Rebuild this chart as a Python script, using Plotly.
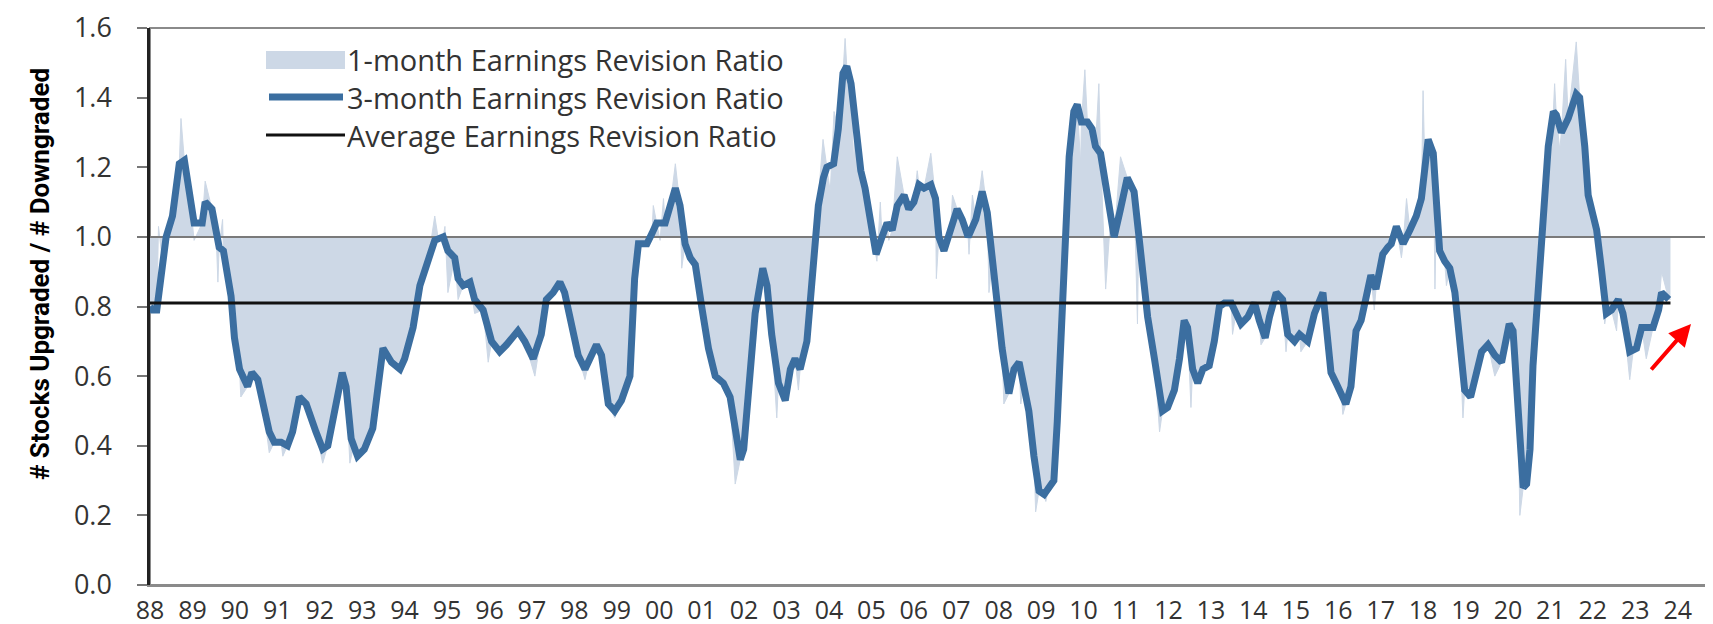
import plotly.graph_objects as go

# ---------------- data (decimal years) ----------------
# 3-month earnings revision ratio (key points)
t3 = [1988.00,1988.06,1988.16,1988.30,1988.38,1988.53,1988.69,1988.81,1988.93,1989.04,1989.23,1989.30,1989.46,1989.56,1989.63,1989.73,1989.91,1989.99,
      1990.11,1990.30,1990.40,1990.54,1990.66,1990.81,1990.93,1991.09,1991.24,1991.36,1991.52,1991.68,1991.91,1992.07,1992.19,1992.38,1992.53,1992.62,1992.74,1992.89,
      1993.05,1993.25,1993.37,1993.49,1993.69,1993.89,1994.00,1994.20,1994.36,1994.55,1994.71,1994.91,1995.02,1995.18,1995.26,1995.38,1995.54,1995.65,1995.85,
      1996.05,1996.24,1996.40,1996.67,1996.83,1997.03,1997.22,1997.34,1997.50,1997.66,1997.77,1997.93,1998.09,1998.25,1998.36,1998.52,1998.64,1998.80,1998.95,
      1999.11,1999.31,1999.42,1999.51,1999.71,1999.83,1999.94,2000.14,2000.26,2000.38,2000.49,2000.61,2000.73,2000.85,2001.00,2001.16,2001.32,2001.51,2001.67,
      2001.79,2001.91,2001.99,2002.10,2002.26,2002.44,2002.54,2002.65,2002.81,2002.97,2003.09,2003.20,2003.32,2003.48,2003.60,2003.75,2003.87,2003.95,
      2004.11,2004.22,2004.33,2004.42,2004.52,2004.62,2004.75,2004.85,2004.96,2005.11,2005.25,2005.37,2005.49,2005.61,2005.77,2005.88,2006.00,2006.12,
      2006.24,2006.40,2006.51,2006.59,2006.71,2006.87,2007.02,2007.14,2007.28,2007.46,2007.61,2007.73,2007.85,2007.97,2008.08,2008.24,2008.36,2008.48,
      2008.59,2008.71,2008.83,2008.95,2009.07,2009.18,2009.30,2009.38,2009.46,2009.56,2009.66,2009.77,2009.85,2009.95,2010.09,2010.20,2010.28,2010.40,
      2010.52,2010.64,2010.72,2010.87,2011.03,2011.19,2011.30,2011.39,2011.51,2011.67,2011.86,2011.98,2012.14,2012.26,2012.37,2012.45,2012.57,2012.69,
      2012.81,2012.96,2013.08,2013.20,2013.32,2013.48,2013.59,2013.71,2013.87,2014.03,2014.14,2014.28,2014.38,2014.54,2014.69,2014.81,2014.97,2015.09,
      2015.28,2015.44,2015.64,2015.71,2015.83,2015.95,2016.07,2016.18,2016.30,2016.42,2016.54,2016.66,2016.77,2016.89,2017.05,2017.17,2017.25,2017.37,
      2017.53,2017.69,2017.84,2017.96,2018.04,2018.12,2018.24,2018.32,2018.39,2018.51,2018.63,2018.75,2018.87,2018.98,2019.12,2019.24,2019.38,2019.53,
      2019.69,2019.85,2020.03,2020.12,2020.24,2020.36,2020.44,2020.52,2020.59,2020.71,2020.83,2020.95,2021.07,2021.14,2021.26,2021.42,2021.61,2021.69,
      2021.81,2021.89,2022.01,2022.09,2022.20,2022.32,2022.44,2022.60,2022.71,2022.87,2023.03,2023.15,2023.42,2023.55,2023.62,2023.79]
v3 = [0.80,0.79,0.79,0.92,1.00,1.06,1.21,1.22,1.12,1.04,1.04,1.10,1.08,1.00,0.97,0.96,0.83,0.71,
      0.62,0.57,0.61,0.59,0.52,0.44,0.41,0.41,0.40,0.44,0.54,0.52,0.44,0.39,0.40,0.53,0.61,0.57,0.42,0.37,
      0.39,0.45,0.57,0.68,0.64,0.62,0.65,0.74,0.86,0.93,0.99,1.00,0.96,0.94,0.88,0.86,0.87,0.82,0.79,
      0.70,0.67,0.69,0.73,0.70,0.65,0.72,0.82,0.84,0.87,0.84,0.76,0.66,0.62,0.65,0.69,0.66,0.52,0.50,
      0.53,0.60,0.88,0.98,0.98,1.01,1.04,1.04,1.09,1.14,1.09,0.98,0.94,0.92,0.80,0.68,0.60,0.58,0.54,
      0.44,0.36,0.39,0.57,0.78,0.91,0.86,0.72,0.58,0.53,0.62,0.65,0.62,0.70,0.88,1.09,1.17,1.20,
      1.21,1.31,1.47,1.49,1.44,1.33,1.19,1.14,1.05,0.95,1.00,1.04,1.02,1.09,1.12,1.08,1.10,1.15,
      1.14,1.15,1.11,1.00,0.96,1.03,1.08,1.05,1.00,1.05,1.13,1.07,0.93,0.82,0.68,0.55,0.62,0.64,
      0.58,0.50,0.37,0.27,0.26,0.28,0.30,0.47,0.72,0.98,1.23,1.36,1.38,1.33,1.33,1.31,1.26,1.24,
      1.16,1.06,1.00,1.08,1.17,1.13,1.01,0.88,0.77,0.65,0.50,0.51,0.56,0.65,0.76,0.74,0.62,0.58,
      0.62,0.63,0.70,0.80,0.81,0.81,0.78,0.75,0.77,0.81,0.76,0.71,0.77,0.84,0.82,0.72,0.70,0.72,
      0.70,0.78,0.84,0.76,0.61,0.58,0.55,0.52,0.57,0.73,0.76,0.84,0.89,0.85,0.95,0.97,0.98,1.03,
      0.98,1.02,1.06,1.11,1.21,1.28,1.24,1.09,0.96,0.93,0.91,0.84,0.68,0.56,0.54,0.60,0.67,0.69,
      0.66,0.64,0.75,0.73,0.47,0.28,0.29,0.39,0.63,0.83,1.07,1.26,1.36,1.35,1.30,1.34,1.41,1.40,
      1.26,1.12,1.06,1.02,0.91,0.78,0.79,0.82,0.78,0.67,0.68,0.74,0.74,0.79,0.84,0.82]

# 1-month earnings revision ratio (key points incl. single-month spikes)
t1 = [1988.00,1988.06,1988.16,1988.20,1988.30,1988.38,1988.53,1988.69,1988.73,1988.81,1988.93,1989.04,1989.23,1989.30,1989.46,1989.56,1989.60,1989.63,1989.71,1989.73,
      1989.91,1989.99,1990.11,1990.14,1990.30,1990.40,1990.54,1990.66,1990.81,1990.93,1991.09,1991.13,1991.24,1991.36,1991.52,1991.68,1991.91,1992.07,1992.19,
      1992.38,1992.53,1992.62,1992.71,1992.80,1992.89,1993.05,1993.25,1993.37,1993.49,1993.69,1993.89,1994.00,1994.20,1994.36,1994.55,1994.71,1994.80,1994.91,
      1994.95,1995.02,1995.18,1995.26,1995.38,1995.54,1995.65,1995.85,1995.97,1996.05,1996.24,1996.40,1996.67,1996.83,1997.07,1997.22,1997.34,1997.50,1997.66,
      1997.77,1997.93,1998.09,1998.25,1998.36,1998.52,1998.64,1998.80,1998.95,1999.11,1999.31,1999.42,1999.51,1999.71,1999.83,1999.86,1999.94,2000.02,2000.10,
      2000.14,2000.26,2000.38,2000.49,2000.53,2000.61,2000.73,2000.85,2001.00,2001.16,2001.32,2001.51,2001.67,2001.79,2001.91,2001.99,2002.10,2002.26,2002.44,
      2002.54,2002.65,2002.77,2002.81,2002.97,2003.09,2003.20,2003.28,2003.32,2003.48,2003.60,2003.75,2003.86,2003.95,2004.03,2004.12,2004.22,2004.33,2004.38,
      2004.42,2004.52,2004.58,2004.62,2004.75,2004.85,2004.96,2005.11,2005.13,2005.21,2005.25,2005.37,2005.41,2005.49,2005.61,2005.77,2005.88,2006.00,2006.08,
      2006.12,2006.24,2006.40,2006.51,2006.53,2006.59,2006.71,2006.87,2006.91,2007.02,2007.14,2007.28,2007.30,2007.38,2007.46,2007.61,2007.73,2007.77,2007.85,
      2007.97,2008.08,2008.12,2008.24,2008.36,2008.48,2008.52,2008.59,2008.71,2008.83,2008.87,2008.95,2009.07,2009.11,2009.18,2009.30,2009.38,2009.46,2009.56,
      2009.62,2009.66,2009.77,2009.85,2009.93,2009.95,2010.03,2010.09,2010.20,2010.28,2010.36,2010.40,2010.52,2010.64,2010.72,2010.87,2011.03,2011.19,2011.27,
      2011.30,2011.39,2011.51,2011.67,2011.79,2011.86,2011.98,2012.14,2012.26,2012.37,2012.45,2012.53,2012.57,2012.69,2012.81,2012.96,2013.08,2013.20,2013.32,
      2013.48,2013.51,2013.59,2013.71,2013.87,2014.03,2014.14,2014.18,2014.28,2014.38,2014.54,2014.69,2014.77,2014.81,2014.97,2015.09,2015.12,2015.28,2015.44,
      2015.64,2015.71,2015.83,2015.95,2016.07,2016.11,2016.18,2016.30,2016.42,2016.54,2016.66,2016.77,2016.85,2016.89,2017.05,2017.17,2017.25,2017.37,2017.49,
      2017.53,2017.61,2017.69,2017.84,2017.96,2018.00,2018.04,2018.12,2018.24,2018.28,2018.32,2018.39,2018.51,2018.55,2018.63,2018.75,2018.87,2018.94,2018.98,
      2019.12,2019.24,2019.38,2019.53,2019.69,2019.85,2020.03,2020.12,2020.24,2020.28,2020.36,2020.44,2020.52,2020.59,2020.71,2020.83,2020.95,2021.07,2021.10,
      2021.14,2021.22,2021.26,2021.36,2021.42,2021.61,2021.69,2021.81,2021.89,2022.01,2022.09,2022.20,2022.28,2022.32,2022.44,2022.56,2022.60,2022.71,2022.87,
      2022.95,2023.03,2023.15,2023.26,2023.42,2023.55,2023.62,2023.79,2023.83]
v1 = [0.80,0.79,0.79,1.03,0.92,1.00,1.06,1.21,1.34,1.22,1.12,0.99,1.04,1.16,1.08,1.00,0.87,0.97,1.05,0.96,
      0.83,0.71,0.62,0.54,0.57,0.61,0.59,0.52,0.38,0.41,0.41,0.37,0.40,0.44,0.54,0.52,0.44,0.35,0.40,
      0.53,0.61,0.57,0.35,0.40,0.36,0.39,0.45,0.57,0.68,0.64,0.62,0.65,0.74,0.86,0.93,1.06,0.99,1.00,
      1.03,0.84,0.94,0.82,0.86,0.87,0.78,0.79,0.64,0.70,0.67,0.69,0.73,0.70,0.60,0.72,0.82,0.84,0.87,
      0.84,0.76,0.66,0.59,0.65,0.69,0.66,0.52,0.48,0.53,0.60,0.88,0.98,0.98,1.01,1.09,1.04,0.99,1.11,
      1.04,1.09,1.21,1.09,0.91,0.98,0.94,0.92,0.80,0.68,0.60,0.58,0.54,0.29,0.36,0.39,0.57,0.78,0.91,
      0.86,0.72,0.48,0.58,0.53,0.62,0.65,0.56,0.62,0.70,0.88,1.09,1.28,1.20,1.13,1.36,1.31,1.47,1.57,
      1.49,1.44,1.21,1.33,1.19,1.14,1.05,0.95,0.93,1.10,1.00,1.04,0.99,1.02,1.23,1.12,1.08,1.10,1.19,
      1.15,1.14,1.24,1.11,0.88,1.00,0.96,1.03,1.12,1.08,1.05,1.00,0.95,1.12,1.05,1.19,1.07,0.84,0.93,
      0.82,0.68,0.52,0.55,0.62,0.64,0.52,0.58,0.50,0.37,0.21,0.27,0.26,0.24,0.28,0.30,0.47,0.72,0.98,
      1.26,1.23,1.36,1.38,1.21,1.33,1.48,1.33,1.31,1.26,1.44,1.24,0.85,1.06,1.00,1.23,1.17,1.13,0.75,
      1.01,0.88,0.77,0.65,0.44,0.50,0.51,0.56,0.65,0.76,0.74,0.51,0.62,0.58,0.62,0.63,0.70,0.80,0.81,
      0.81,0.72,0.78,0.75,0.77,0.81,0.76,0.69,0.71,0.77,0.84,0.82,0.67,0.72,0.70,0.72,0.67,0.70,0.78,
      0.84,0.76,0.61,0.58,0.55,0.49,0.52,0.57,0.73,0.76,0.84,0.89,0.79,0.85,0.95,0.97,0.98,1.03,0.94,
      0.98,1.11,1.02,1.06,1.11,1.42,1.21,1.28,1.24,0.85,1.09,0.96,0.93,0.86,0.91,0.84,0.68,0.48,0.56,
      0.54,0.60,0.67,0.69,0.60,0.64,0.75,0.73,0.47,0.20,0.28,0.29,0.39,0.63,0.83,1.07,1.26,1.36,1.44,
      1.35,1.25,1.30,1.51,1.34,1.56,1.40,1.26,1.12,1.06,1.02,0.91,0.75,0.78,0.79,0.73,0.82,0.78,0.59,
      0.67,0.68,0.74,0.65,0.74,0.79,0.90,0.82,0.82]

average_ratio = 0.81
avg_span = [1988.0, 2023.83]
neutral_level = 1.0

tick_years = list(range(1988, 2025))
tick_text = [f"{y % 100:02d}" for y in tick_years]
y_ticks = [0.0, 0.2, 0.4, 0.6, 0.8, 1.0, 1.2, 1.4, 1.6]

series_names = ["1-month Earnings Revision Ratio",
                "3-month Earnings Revision Ratio",
                "Average Earnings Revision Ratio"]

# ---------------- styling ----------------
LINE_BLUE = "#3b6ea0"
FILL_BLUE = "#cdd8e6"
TXT = "#333333"
W, H = 1713, 624
L, R, T, B = 142, 3, 20, 47
XMAX = 2024.95

fig = go.Figure()

# baseline at 1.0 (invisible) for filling the 1-month series against
fig.add_trace(go.Scatter(x=[t1[0], t1[-1]], y=[neutral_level, neutral_level], mode="lines",
                         line=dict(width=0, color="rgba(0,0,0,0)"), showlegend=False, hoverinfo="skip"))
fig.add_trace(go.Scatter(x=t1, y=v1, mode="lines", fill="tonexty", fillcolor=FILL_BLUE,
                         line=dict(width=1, color=FILL_BLUE), name=series_names[0], showlegend=False))
# 1.0 reference line
fig.add_trace(go.Scatter(x=[1988.0, XMAX], y=[neutral_level, neutral_level], mode="lines",
                         line=dict(width=2, color="#7a7a7a"), showlegend=False, hoverinfo="skip"))
# 3-month line
fig.add_trace(go.Scatter(x=t3, y=v3, mode="lines", line=dict(width=7, color=LINE_BLUE),
                         name=series_names[1], showlegend=False))
# average line
fig.add_trace(go.Scatter(x=avg_span, y=[average_ratio, average_ratio], mode="lines",
                         line=dict(width=3, color="#111111"), name=series_names[2], showlegend=False))

pw, ph = W - L - R, H - T - B
def px(X):
    return (X - L) / pw
def py(Y):
    return (H - B - Y) / ph

shapes = [
    # frame (top/right/bottom)
    dict(type="rect", xref="paper", yref="paper", x0=0, x1=1, y0=0, y1=1,
         line=dict(color="#8a8a8a", width=2), layer="below"),
    # legend swatches
    dict(type="rect", xref="paper", yref="paper", x0=px(258), x1=px(337), y0=py(61), y1=py(43),
         fillcolor=FILL_BLUE, line=dict(width=0)),
    dict(type="line", xref="paper", yref="paper", x0=px(261), x1=px(335), y0=py(89), y1=py(89),
         line=dict(color=LINE_BLUE, width=7)),
    dict(type="line", xref="paper", yref="paper", x0=px(258), x1=px(337), y0=py(127), y1=py(127),
         line=dict(color="#111111", width=3)),
]

annotations = []
for name, yy in zip(series_names, [52, 89, 127]):
    annotations.append(dict(xref="paper", yref="paper", x=px(337), y=py(yy), text=name,
                            showarrow=False, xanchor="left", yanchor="middle",
                            font=dict(family="Open Sans", size=29, color=TXT)))
# y-axis title
annotations.append(dict(xref="paper", yref="paper", x=px(32), y=py(266),
                        text="<b># Stocks Upgraded / # Downgraded</b>", textangle=-90,
                        showarrow=False, xanchor="center", yanchor="middle",
                        font=dict(family="Liberation Sans Narrow, Arial Narrow, Roboto", size=26, color="#000000")))
# red arrow
annotations.append(dict(xref="paper", yref="paper", x=px(1683), y=py(316), ax=-41, ay=47,
                        text="", showarrow=True, arrowhead=2, arrowsize=1.1, arrowwidth=4,
                        arrowcolor="#ff0000"))

fig.update_layout(
    width=W, height=H,
    margin=dict(l=L, r=R, t=T, b=B, autoexpand=False),
    paper_bgcolor="white", plot_bgcolor="white",
    showlegend=False,
    shapes=shapes, annotations=annotations,
    xaxis=dict(range=[1988.0, XMAX], tickmode="array", tickvals=tick_years, ticktext=tick_text,
               showgrid=False, zeroline=False, showline=True, linecolor="#8a8a8a", linewidth=2,
               ticks="", ticklabelstandoff=2, automargin=False,
               tickfont=dict(family="Open Sans", size=25, color=TXT)),
    yaxis=dict(range=[0, 1.6], tickmode="array", tickvals=y_ticks,
               ticktext=[f"{v:.1f}" for v in y_ticks],
               showgrid=False, zeroline=False, showline=True, linecolor="#222222", linewidth=2.5,
               ticks="outside", ticklen=10, tickcolor="#777777", tickwidth=1.5,
               ticklabelstandoff=20, automargin=False,
               tickfont=dict(family="Open Sans", size=27, color=TXT)),
)

fig.write_html("out.html")
